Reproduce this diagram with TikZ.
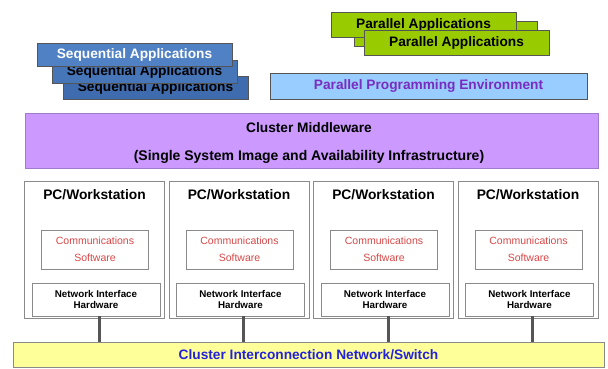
\documentclass[tikz,border=0pt]{standalone}
\usepackage{fontspec}
\setmainfont{Liberation Sans}
\definecolor{seqA}{HTML}{4F81C4}
\definecolor{seqB}{HTML}{4676B8}
\definecolor{seqC}{HTML}{3F6CAE}
\definecolor{pgreen}{HTML}{99CC00}
\definecolor{ppefill}{HTML}{99CCFF}
\definecolor{ppetext}{HTML}{7A2CC0}
\definecolor{mwfill}{HTML}{CC99FF}
\definecolor{barfill}{HTML}{FFFF99}
\definecolor{bartext}{HTML}{2222DD}
\definecolor{edge}{HTML}{555555}
\definecolor{pcedge}{HTML}{8A8A8A}
\definecolor{commred}{HTML}{D84848}
\begin{document}
\begin{tikzpicture}[x=1pt,y=-1pt,
  bigfont/.style={font=\fontsize{13.7}{16}\selectfont\bfseries},
  rectbox/.style={draw=edge,line width=0.8pt,inner sep=0pt,outer sep=0pt},
  seqbox/.style={rectbox,minimum height=23pt,bigfont},
  parbox/.style={rectbox,fill=pgreen,minimum width=185pt,minimum height=25pt,bigfont},
  pcbox/.style={draw=pcedge,line width=0.8pt,fill=white,inner sep=0pt,minimum width=140pt,minimum height=137pt},
  commbox/.style={draw=pcedge,line width=0.7pt,fill=white,inner sep=0pt,minimum width=107pt,minimum height=39pt,align=center,text=commred,font=\fontsize{10.5}{17}\selectfont},
  nihbox/.style={draw=pcedge,line width=0.7pt,fill=white,inner sep=0pt,minimum width=128pt,minimum height=33pt,align=center,font=\fontsize{9.8}{11.5}\selectfont\bfseries},
  pctitle/.style={font=\fontsize{13.8}{16}\selectfont\bfseries,inner sep=0pt},
  link/.style={draw=edge,line width=3pt}
]
\useasboundingbox (0,0) rectangle (608,368);
% Sequential applications
\node[seqbox,fill=seqC,minimum width=185pt] (s3) at (155.5,88) {Sequential Applications};
\node[seqbox,fill=seqB,minimum width=185pt] (s2) at (144.5,72) {Sequential Applications};
\node[seqbox,fill=seqA,minimum width=195pt,text=white] (s1) at (134.5,54.5) {Sequential Applications};
% Parallel applications
\node[parbox,minimum width=183pt] (p2) at (445.5,34) {};
\node[parbox] (p1) at (423.5,25) {Parallel Applications};
\node[parbox] (p3) at (456.5,42.5) {Parallel Applications};
% Parallel programming environment
\node[rectbox,fill=ppefill,minimum width=317pt,minimum height=26pt,text=ppetext,bigfont] (ppe) at (428.5,86) {Parallel Programming Environment};
% Middleware
\node[rectbox,draw=mwfill!80!black,fill=mwfill,minimum width=573pt,minimum height=55pt] (mw) at (311.5,140.5) {};
\node[bigfont,inner sep=0pt] (mwt1) at (309,128) {Cluster Middleware};
\node[font=\fontsize{14}{16}\selectfont\bfseries,inner sep=0pt] (mwt2) at (309,157) {(Single System Image and Availability Infrastructure)};
% Interconnect bar
\node[rectbox,draw=pcedge,fill=barfill,minimum width=591pt,minimum height=25pt,text=bartext,bigfont] (bar) at (308.5,354.5) {Cluster Interconnection Network/Switch};
% PC workstations
\foreach \i in {0,1,2,3}{
  \pgfmathsetmacro{\cx}{94.5+144.5*\i}
  \node[pcbox] (pc\i) at (\cx,249.5) {};
  \node[pctitle] (pct\i) at (\cx,195) {PC/Workstation};
  \node[commbox] (cs\i) at (\cx+0.5,249.5) {Communications\\Software};
  \node[nihbox] (nih\i) at (\cx+1.5,299.5) {Network Interface\\Hardware};
  \draw[link] ([xshift=3pt]nih\i.south) -- ([xshift=3pt]nih\i.south |- bar.north);
}
\end{tikzpicture}
\end{document}
